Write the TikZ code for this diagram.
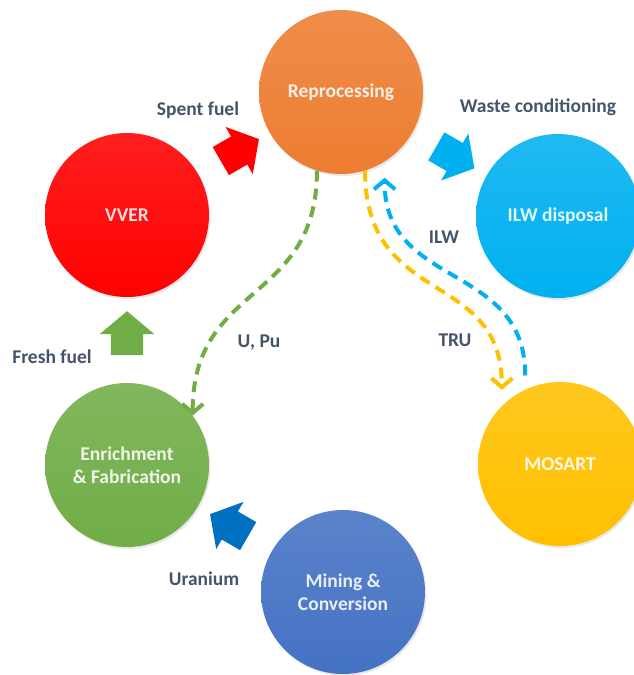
\documentclass[tikz,border=0pt]{standalone}
\usepackage{fontspec}
\setmainfont{Carlito}
\usetikzlibrary{arrows.meta,shapes.arrows,shadows,calc}
\definecolor{colReproc}{HTML}{ED7D31}
\definecolor{colVver}{HTML}{FF0000}
\definecolor{colIlw}{HTML}{00B0F0}
\definecolor{colMosart}{HTML}{FFC000}
\definecolor{colEnrich}{HTML}{70AD47}
\definecolor{colMining}{HTML}{4472C4}
\definecolor{colUranium}{HTML}{0070C0}
\definecolor{colLabel}{HTML}{44546A}
\newcommand{\stage}[4]{\node[stage, top color=#3!88!white, bottom color=#3] (#1) at (#2) {#4};}
\newcommand{\blockarrow}[5]{\node[blockarrow, fill=#4, rotate=#5] (#1) at ($(#2)!0.5!(#3)$) {};}

\begin{document}
\begin{tikzpicture}
    [x=1pt,y=1pt,
    stage/.style={circle,minimum size=164pt,inner sep=0pt,align=center,text=white,text opacity=0.88,
        font=\fontsize{19.5}{23}\selectfont\bfseries,
        drop shadow={opacity=0.18,shadow xshift=1.5pt,shadow yshift=-2pt}},
    blockarrow/.style={single arrow,draw=none,inner xsep=0pt,inner ysep=16pt,minimum height=44pt,
        single arrow head extend=11pt,single arrow tip angle=100},
    flow/.style={line width=4pt,dash pattern=on 11pt off 7pt,-{Straight Barb[length=9pt,width=21pt,line width=4pt]}},
    lbl/.style={text=colLabel,font=\fontsize{19.5}{23}\selectfont\bfseries},
    ]
    \useasboundingbox (0,0) rectangle (634,675);
    % stages of the cycle
    \stage{reproc}{341,583}{colReproc}{Reprocessing}
    \stage{vver}{127,460}{colVver}{VVER}
    \stage{ilw}{558,459}{colIlw}{ILW disposal}
    \stage{enrich}{127,210}{colEnrich}{Enrichment\\\& Fabrication}
    \stage{mosart}{560,211}{colMosart}{MOSART}
    \stage{mining}{343,83}{colMining}{Mining \&\\Conversion}
    % block arrows between neighbours
    \blockarrow{spentarr}{vver}{reproc}{colVver}{30}
    \blockarrow{wastearr}{reproc}{ilw}{colIlw}{-30}
    \blockarrow{freshsarr}{enrich}{vver}{colEnrich}{90}
    \blockarrow{uranarr}{mining}{enrich}{colUranium}{150}
    % dashed material flows
    \draw[flow,colEnrich] (reproc.-107) to[out=-90,in=90,looseness=1.25] (enrich.37);
    \draw[flow,colMosart,shorten >=16pt] (reproc.-73) to[out=-90,in=90,looseness=1.3] (mosart.135);
    \draw[flow,colIlw,shorten <=14pt,shorten >=16pt] (mosart.115) to[out=90,in=-90,looseness=1.22] (reproc.-58);
    % labels
    \node[lbl] (spent) at (198,565) {Spent fuel};
    \node[lbl] (waste) at (538,568) {Waste conditioning};
    \node[lbl] (ilwlbl) at (444,438) {ILW};
    \node[lbl] (trulbl) at (455,335) {TRU};
    \node[lbl] (upulbl) at (259,333) {U, Pu};
    \node[lbl] (fresh) at (52,318) {Fresh fuel};
    \node[lbl] (uranium) at (204,96) {Uranium};
\end{tikzpicture}
\end{document}
